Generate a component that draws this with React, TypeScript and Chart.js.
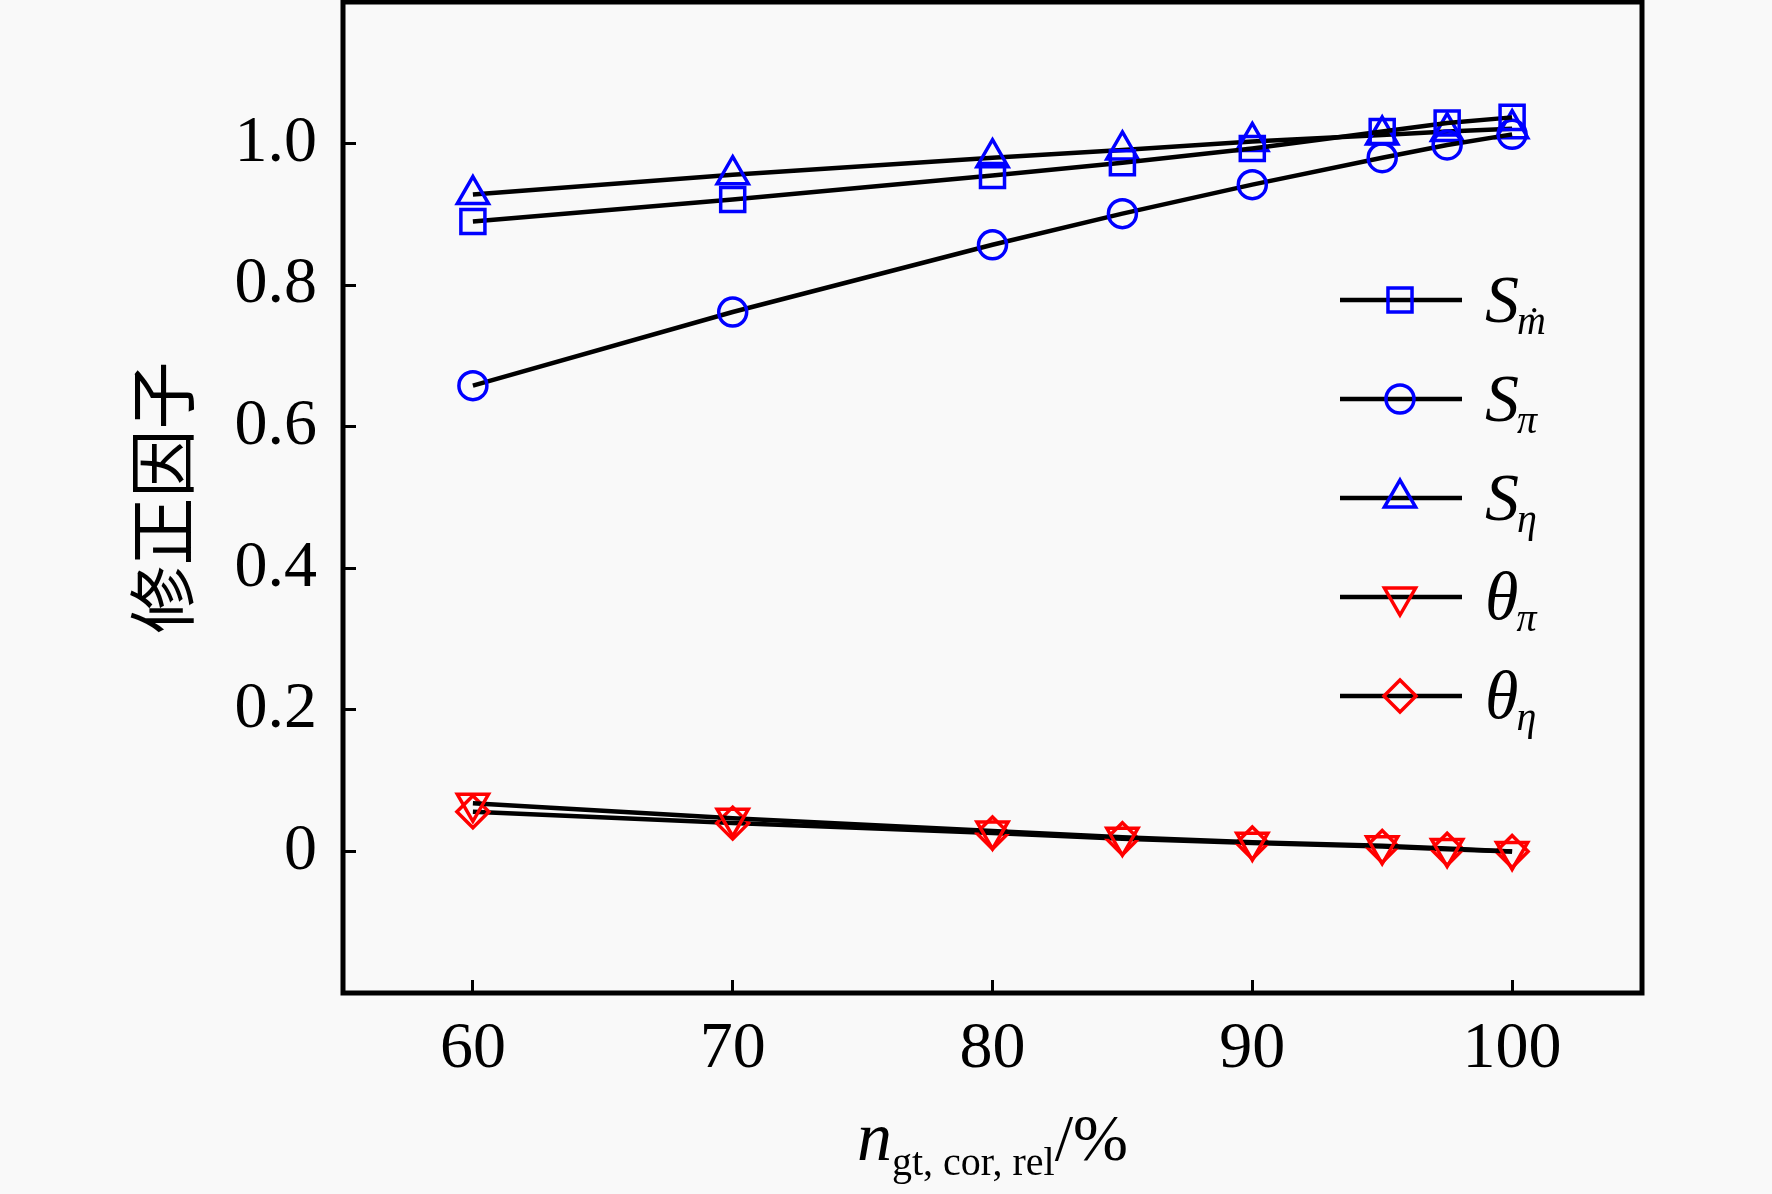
import { useEffect, useRef } from 'react';
import { Chart, registerables, type Plugin } from 'chart.js';
import { drawPoint } from 'chart.js/helpers';

Chart.register(...registerables);

// relative corrected speed, %
const speedRel = [60, 70, 80, 85, 90, 95, 97.5, 100];

// correction factors
const sMassFlow = [0.89, 0.921, 0.955, 0.973, 0.993, 1.017, 1.029, 1.037];
const sPressure = [0.658, 0.762, 0.857, 0.901, 0.942, 0.98, 0.998, 1.013];
const sEfficiency = [0.928, 0.956, 0.98, 0.991, 1.003, 1.012, 1.017, 1.021];
const thetaPressure = [0.068, 0.047, 0.029, 0.02, 0.013, 0.008, 0.004, 0.0];
const thetaEfficiency = [0.056, 0.04, 0.026, 0.018, 0.012, 0.007, 0.003, 0.0];

const xTicks = [60, 70, 80, 90, 100];
const yTicks = [0, 0.2, 0.4, 0.6, 0.8, 1.0];

// legend symbols: main letter + subscript
const legendMain = ['S', 'S', 'S', 'θ', 'θ'];
const legendSub = ['ṁ', 'π', 'η', 'π', 'η'];

const BLUE = '#0000ff';
const RED = '#ff0000';
const SERIF = '"Liberation Serif", "Times New Roman", serif';
const LINE_W = 4.5;
const MARK_W = 3.5;

const markerStyles = [
  { color: BLUE, style: 'rect', rotation: 0, radius: 17 },
  { color: BLUE, style: 'circle', rotation: 0, radius: 14 },
  { color: BLUE, style: 'triangle', rotation: 0, radius: 18 },
  { color: RED, style: 'triangle', rotation: 180, radius: 18 },
  { color: RED, style: 'rectRot', rotation: 0, radius: 16 },
];

const framePlugin: Plugin = {
  id: 'frame',
  afterDatasetsDraw(chart) {
    const { ctx, chartArea: a } = chart;
    ctx.save();
    ctx.strokeStyle = '#000';
    ctx.lineWidth = 5;
    ctx.strokeRect(a.left, a.top, a.right - a.left, a.bottom - a.top);
    ctx.restore();
  },
};

// legend with subscripts, Chart.js legend can't do that
const legendPlugin: Plugin = {
  id: 'subLegend',
  afterDraw(chart) {
    const ctx = chart.ctx;
    chart.data.datasets.forEach((_ds, i) => {
      const m = markerStyles[i];
      const y = 300 + i * 99;
      ctx.save();
      ctx.strokeStyle = '#000';
      ctx.lineWidth = LINE_W;
      ctx.beginPath();
      ctx.moveTo(1340, y);
      ctx.lineTo(1462, y);
      ctx.stroke();

      ctx.strokeStyle = m.color;
      ctx.fillStyle = 'rgba(0,0,0,0)';
      ctx.lineWidth = MARK_W;
      drawPoint(
        ctx,
        { pointStyle: m.style as any, rotation: m.rotation, radius: m.radius, borderWidth: MARK_W },
        1400,
        y,
      );

      ctx.fillStyle = '#000';
      ctx.textBaseline = 'alphabetic';
      ctx.textAlign = 'left';
      ctx.font = `italic 68px ${SERIF}`;
      ctx.fillText(legendMain[i], 1485, y + 22);
      const w = ctx.measureText(legendMain[i]).width;
      ctx.font = `italic 40px ${SERIF}`;
      ctx.fillText(legendSub[i], 1485 + w - 2, y + 34);
      ctx.restore();
    });
  },
};

// x title: n_{gt, cor, rel}/%
const xTitlePlugin: Plugin = {
  id: 'xTitle',
  afterDraw(chart) {
    const { ctx, chartArea: a } = chart;
    const parts = [
      { text: 'n', font: `italic 70px ${SERIF}`, dy: 0 },
      { text: 'gt, cor, rel', font: `40px ${SERIF}`, dy: 15 },
      { text: '/%', font: `66px ${SERIF}`, dy: 0 },
    ];
    ctx.save();
    ctx.fillStyle = '#000';
    ctx.textBaseline = 'alphabetic';
    ctx.textAlign = 'left';
    const widths = parts.map((p) => {
      ctx.font = p.font;
      return ctx.measureText(p.text).width;
    });
    const total = widths.reduce((s, w) => s + w, 0);
    let x = (a.left + a.right) / 2 - total / 2;
    const base = 1160;
    parts.forEach((p, i) => {
      ctx.font = p.font;
      ctx.fillText(p.text, x, base + p.dy);
      x += widths[i];
    });
    ctx.restore();
  },
};

export default function App() {
  const canvasRef = useRef<HTMLCanvasElement>(null);
  const chartRef = useRef<Chart | null>(null);

  useEffect(() => {
    if (!canvasRef.current) return;
    if (chartRef.current) chartRef.current.destroy();

    const series = [sMassFlow, sPressure, sEfficiency, thetaPressure, thetaEfficiency];

    chartRef.current = new Chart(canvasRef.current, {
      type: 'line',
      data: {
        datasets: series.map((vals, i) => ({
          label: legendMain[i] + legendSub[i],
          data: speedRel.map((x, j) => ({ x, y: vals[j] })),
          borderColor: '#000',
          borderWidth: LINE_W,
          tension: 0,
          fill: false,
          pointStyle: markerStyles[i].style as any,
          pointRotation: markerStyles[i].rotation,
          pointRadius: markerStyles[i].radius,
          pointBorderColor: markerStyles[i].color,
          pointBackgroundColor: 'rgba(0,0,0,0)',
          pointBorderWidth: MARK_W,
        })),
      },
      options: {
        animation: false,
        responsive: true,
        maintainAspectRatio: false,
        events: [],
        layout: { autoPadding: false, padding: { left: 0, top: 2, right: 130, bottom: 0 } },
        plugins: {
          legend: { display: false },
          tooltip: { enabled: false },
        },
        scales: {
          x: {
            type: 'linear',
            min: 55,
            max: 105,
            afterBuildTicks: (scale) => {
              scale.ticks = xTicks.map((value) => ({ value }));
            },
            afterFit: (scale: any) => {
              scale.height = 201;
              scale.paddingLeft = 0;
              scale.paddingRight = 0;
            },
            border: { display: false },
            grid: {
              drawOnChartArea: false,
              drawTicks: true,
              tickLength: -13,
              color: '#000',
              lineWidth: 3,
            },
            ticks: {
              color: '#000',
              padding: 30,
              maxRotation: 0,
              autoSkip: false,
              font: { family: SERIF, size: 66 },
            },
          },
          y: {
            type: 'linear',
            min: -0.2,
            max: 1.2,
            afterBuildTicks: (scale) => {
              scale.ticks = yTicks.map((value) => ({ value }));
            },
            afterFit: (scale: any) => {
              scale.width = 343;
              scale.paddingTop = 0;
              scale.paddingBottom = 0;
            },
            border: { display: false },
            grid: {
              drawOnChartArea: false,
              drawTicks: true,
              tickLength: -13,
              color: '#000',
              lineWidth: 3,
            },
            ticks: {
              color: '#000',
              padding: 39,
              autoSkip: false,
              font: { family: SERIF, size: 66 },
              callback: (v) => (Math.abs(Number(v)) < 1e-9 ? '0' : Number(v).toFixed(1)),
            },
            title: {
              display: true,
              text: '修正因子',
              color: '#000',
              font: { family: '"Noto Sans CJK SC", sans-serif', size: 68 },
              padding: { top: 121, bottom: 0 },
            },
          },
        },
      },
      plugins: [framePlugin, legendPlugin, xTitlePlugin],
    });

    return () => {
      if (chartRef.current) {
        chartRef.current.destroy();
        chartRef.current = null;
      }
    };
  }, []);

  return (
    <div
      style={{
        position: 'fixed',
        left: 0,
        top: 0,
        width: 1772,
        height: 1194,
        background: '#f9f9f9',
      }}
    >
      <canvas ref={canvasRef} />
    </div>
  );
}
